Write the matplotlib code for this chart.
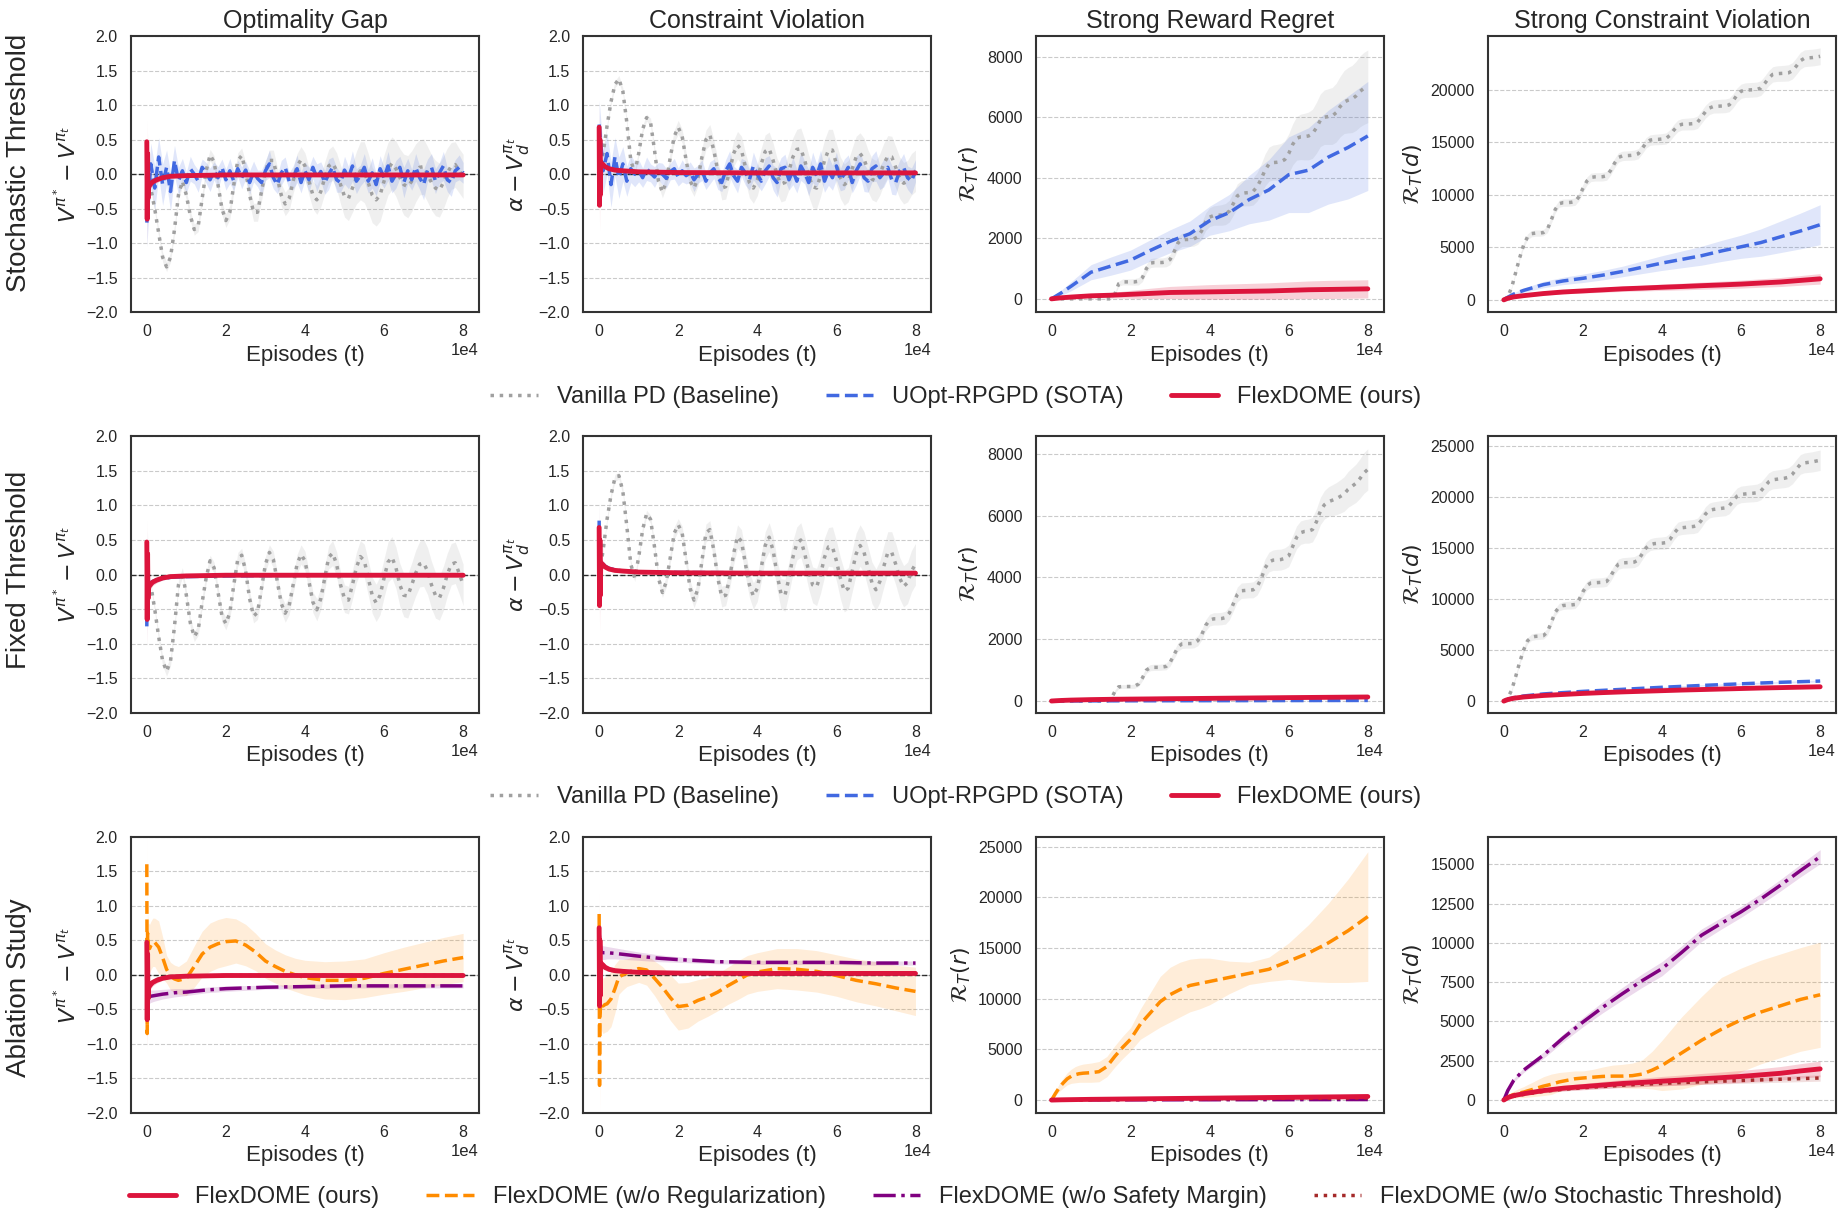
import numpy as np
import matplotlib
matplotlib.use("Agg")
import matplotlib.pyplot as plt
from matplotlib.lines import Line2D
import seaborn as sns

# ------------------------------------------------------------------ data
# sampling grids (episodes)
t_grid = np.arange(0, 80001, 1000)                 # 81 points
t_red = [0, 100, 200, 300, 400, 600, 1000, 1500, 2500, 4000, 6000,
         10000, 20000, 40000, 60000, 80000]
t_cum = [0, 1000, 2500, 5000, 10000, 15000, 20000, 25000, 30000, 35000,
         40000, 45000, 50000, 55000, 60000, 65000, 70000, 75000, 80000]
t_pm = [0, 500, 1000, 2000, 4000, 7000, 10000, 15000, 20000, 30000,
        40000, 50000, 60000, 70000, 80000]
t_abl = [0, 100, 200, 400, 700, 1000, 1500, 2000, 3000, 4000, 5000, 6000,
         7000, 8000, 10000, 12000, 14000, 16000, 18000, 20000, 22500, 25000,
         27500, 30000, 32500, 35000, 37500, 40000, 45000, 50000, 55000,
         60000, 65000, 70000, 75000, 80000]

# ---- Row 1: stochastic threshold, optimality gap
st_gap_vpd = [0.0, -0.2, -0.5, -0.85, -1.2, -1.34, -1.2, -0.8, -0.3, -0.1,
              -0.3, -0.6, -0.8, -0.75, -0.35, 0.05, 0.28, 0.18, -0.15, -0.5,
              -0.67, -0.55, -0.15, 0.2, 0.27, 0.05, -0.3, -0.55, -0.55, -0.25,
              0.05, 0.2, 0.2, -0.05, -0.3, -0.43, -0.35, -0.1, 0.12, 0.21,
              0.12, -0.1, -0.3, -0.37, -0.25, -0.05, 0.12, 0.16, 0.05, -0.15,
              -0.32, -0.35, -0.2, -0.05, 0.05, 0.03, -0.12, -0.3, -0.37, -0.3,
              -0.1, 0.08, 0.16, 0.08, -0.05, -0.15, -0.18, -0.1, 0.02, 0.1,
              0.11, 0.0, -0.12, -0.2, -0.23, -0.12, 0.02, 0.12, 0.14, 0.05,
              -0.03]
st_gap_vpd_sd = [0.03, 0.04, 0.05, 0.06, 0.07, 0.07, 0.07, 0.07, 0.07, 0.07,
                 0.07, 0.07, 0.08, 0.08, 0.08, 0.08, 0.08, 0.09, 0.09, 0.09,
                 0.1, 0.1, 0.1, 0.11, 0.11, 0.12, 0.12, 0.13, 0.13, 0.14,
                 0.14, 0.15, 0.15, 0.16, 0.16, 0.17, 0.17, 0.18, 0.18, 0.19,
                 0.19, 0.2, 0.2, 0.21, 0.22, 0.23, 0.24, 0.25, 0.26, 0.28,
                 0.3, 0.32, 0.35, 0.38, 0.42, 0.44, 0.42, 0.4, 0.38, 0.38,
                 0.38, 0.38, 0.38, 0.4, 0.42, 0.44, 0.45, 0.44, 0.42, 0.4,
                 0.4, 0.4, 0.4, 0.4, 0.39, 0.38, 0.36, 0.34, 0.33, 0.32,
                 0.32]
st_gap_uopt = [-0.7, 0.15, -0.2, 0.25, -0.15, 0.1, -0.25, 0.2, -0.1, 0.05,
               -0.12, 0.08, 0.0, -0.1, 0.1, 0.02, -0.08, 0.05, -0.05, 0.1,
               -0.08, 0.05, -0.1, 0.08, -0.05, 0.06, -0.12, 0.04, -0.06, -0.12,
               0.05, 0.15, -0.05, -0.15, 0.02, 0.1, -0.1, -0.05, 0.08, -0.12,
               0.05, -0.08, 0.1, -0.05, 0.04, -0.12, 0.0, 0.1, -0.08, -0.12,
               0.06, -0.05, 0.12, -0.1, -0.02, 0.1, -0.1, 0.02, -0.15, 0.08,
               -0.05, 0.12, -0.1, 0.0, 0.1, -0.12, 0.05, -0.08, 0.1, -0.05,
               -0.15, 0.06, 0.1, -0.1, 0.02, 0.12, -0.08, -0.12, 0.05, 0.1,
               0.02]
st_gap_uopt_sd = [0.35, 0.3, 0.32, 0.28, 0.3, 0.25, 0.28, 0.22, 0.2, 0.18,
                  0.15, 0.18, 0.14, 0.16, 0.12, 0.15, 0.17, 0.13, 0.16, 0.12,
                  0.15, 0.18, 0.14, 0.12, 0.16, 0.13, 0.17, 0.15, 0.12, 0.18,
                  0.14, 0.2, 0.16, 0.13, 0.18, 0.15, 0.12, 0.17, 0.2, 0.15,
                  0.13, 0.18, 0.16, 0.2, 0.14, 0.17, 0.22, 0.15, 0.18, 0.14,
                  0.2, 0.16, 0.22, 0.18, 0.15, 0.2, 0.17, 0.22, 0.16, 0.19,
                  0.15, 0.21, 0.17, 0.2, 0.16, 0.22, 0.18, 0.15, 0.2, 0.17,
                  0.22, 0.16, 0.2, 0.18, 0.15, 0.21, 0.17, 0.2, 0.16, 0.18,
                  0.15]
flex_gap = [0.47, -0.65, 0.3, -0.35, -0.2, -0.17, -0.14, -0.11, -0.08, -0.05,
            -0.03, -0.02, -0.01, -0.01, -0.01, -0.01]
flex_gap_sd = [0.35, 0.4, 0.3, 0.25, 0.12, 0.08, 0.06, 0.05, 0.04, 0.03,
               0.02, 0.02, 0.02, 0.02, 0.02, 0.02]

# ---- Row 1: stochastic threshold, constraint violation
st_cv_vpd = [0.0, 0.3, 0.7, 1.05, 1.3, 1.38, 1.2, 0.75, 0.2, 0.02,
             0.3, 0.65, 0.82, 0.75, 0.35, -0.1, -0.26, -0.1, 0.25, 0.55,
             0.68, 0.55, 0.2, -0.1, -0.2, -0.05, 0.25, 0.5, 0.57, 0.35,
             0.05, -0.2, -0.18, 0.05, 0.3, 0.42, 0.35, 0.1, -0.12, -0.2,
             -0.08, 0.15, 0.33, 0.37, 0.2, -0.02, -0.14, -0.12, 0.05, 0.25,
             0.36, 0.37, 0.2, -0.02, -0.18, -0.2, -0.02, 0.2, 0.35, 0.35,
             0.15, -0.05, -0.15, -0.1, 0.08, 0.25, 0.3, 0.22, 0.05, -0.07,
             -0.1, 0.0, 0.15, 0.26, 0.25, 0.1, -0.05, -0.13, -0.1, 0.0,
             0.05]
st_cv_vpd_sd = [0.02, 0.03, 0.04, 0.05, 0.05, 0.05, 0.05, 0.05, 0.05, 0.05,
                0.05, 0.05, 0.05, 0.06, 0.06, 0.07, 0.08, 0.08, 0.09, 0.09,
                0.1, 0.1, 0.11, 0.11, 0.12, 0.12, 0.13, 0.14, 0.15, 0.15,
                0.16, 0.17, 0.18, 0.18, 0.19, 0.2, 0.2, 0.21, 0.22, 0.22,
                0.23, 0.23, 0.24, 0.24, 0.25, 0.25, 0.26, 0.26, 0.27, 0.28,
                0.29, 0.3, 0.3, 0.3, 0.3, 0.3, 0.3, 0.3, 0.3, 0.3,
                0.3, 0.3, 0.3, 0.3, 0.3, 0.3, 0.3, 0.3, 0.3, 0.3,
                0.3, 0.3, 0.3, 0.3, 0.3, 0.3, 0.3, 0.3, 0.3, 0.3,
                0.3]
st_cv_uopt = [0.72, 0.05, 0.3, -0.15, 0.25, -0.05, 0.15, -0.1, 0.08, 0.0,
              0.05, -0.05, 0.08, 0.02, -0.04, 0.05, 0.0, -0.06, 0.04, 0.08,
              -0.04, 0.05, -0.02, 0.03, -0.08, 0.0, 0.06, -0.1, 0.02, 0.08,
              -0.05, -0.12, 0.05, 0.15, -0.02, -0.1, 0.1, 0.02, -0.08, 0.12,
              0.0, -0.1, 0.05, 0.12, -0.05, -0.12, 0.08, 0.1, -0.08, 0.05,
              -0.1, 0.12, 0.02, -0.12, 0.1, -0.02, 0.15, -0.1, 0.05, -0.05,
              0.12, -0.08, 0.0, 0.1, -0.12, 0.05, 0.15, -0.05, -0.1, 0.08,
              0.12, -0.05, 0.02, 0.1, -0.08, -0.12, 0.05, 0.1, -0.05, -0.1,
              0.05]
st_cv_uopt_sd = [0.35, 0.32, 0.3, 0.33, 0.28, 0.3, 0.25, 0.22, 0.2, 0.18,
                 0.16, 0.14, 0.17, 0.13, 0.15, 0.12, 0.16, 0.14, 0.12, 0.15,
                 0.13, 0.16, 0.12, 0.15, 0.17, 0.13, 0.15, 0.12, 0.16, 0.14,
                 0.17, 0.13, 0.16, 0.19, 0.14, 0.17, 0.13, 0.18, 0.15, 0.2,
                 0.16, 0.14, 0.19, 0.15, 0.18, 0.21, 0.16, 0.19, 0.15, 0.2,
                 0.17, 0.21, 0.16, 0.19, 0.22, 0.17, 0.2, 0.16, 0.21, 0.18,
                 0.2, 0.16, 0.22, 0.18, 0.15, 0.21, 0.17, 0.2, 0.16, 0.19,
                 0.22, 0.17, 0.2, 0.16, 0.21, 0.18, 0.15, 0.2, 0.17, 0.19,
                 0.16]
flex_cv = [0.68, -0.45, 0.5, -0.3, 0.17, 0.16, 0.14, 0.11, 0.08, 0.06,
           0.05, 0.035, 0.025, 0.02, 0.02, 0.02]
flex_cv_sd = [0.37, 0.38, 0.3, 0.2, 0.1, 0.07, 0.05, 0.04, 0.03, 0.03,
              0.02, 0.02, 0.02, 0.02, 0.02, 0.02]

# ---- Row 1: cumulative regrets
st_rr_vpd = [0, 0, 0, 0, 0, 0, 0, 0, 0, 0,
             0, 0, 0, 0, 0, 0, 150, 500, 560, 560,
             560, 560, 580, 700, 1000, 1180, 1200, 1200, 1200, 1220,
             1300, 1550, 1850, 1950, 1960, 1960, 1980, 2050, 2250, 2550,
             2700, 2750, 2760, 2770, 2800, 2900, 3150, 3400, 3480, 3500,
             3510, 3550, 3700, 3950, 4250, 4450, 4500, 4510, 4530, 4600,
             4800, 5100, 5300, 5350, 5360, 5380, 5450, 5650, 5900, 6000,
             6020, 6040, 6150, 6350, 6500, 6560, 6600, 6700, 6850, 6950,
             7020]
st_rr_vpd_sd = [0, 0, 0, 0, 0, 0, 0, 0, 0, 0,
                0, 0, 0, 0, 0, 0, 40, 80, 100, 100,
                100, 110, 120, 130, 140, 150, 150, 150, 150, 160,
                170, 190, 210, 220, 230, 230, 240, 250, 270, 290,
                310, 320, 330, 340, 350, 360, 380, 400, 420, 430,
                440, 450, 470, 500, 530, 560, 580, 590, 600, 620,
                650, 680, 720, 750, 770, 790, 810, 840, 870, 900,
                920, 940, 970, 1000, 1040, 1080, 1110, 1140, 1170, 1190,
                1200]
st_rr_uopt = [0, 80, 200, 420, 880, 1080, 1280, 1600, 1900, 2150, 2580, 2850,
              3280, 3600, 4100, 4250, 4680, 5000, 5380]
st_rr_uopt_sd = [0, 40, 90, 150, 250, 300, 330, 350, 380, 420, 480, 600, 800,
                 1000, 1250, 1400, 1550, 1700, 1800]
st_rr_flex = [0, 15, 35, 60, 100, 120, 150, 180, 210, 220, 230, 240, 250, 260,
              280, 300, 310, 320, 330]
st_rr_flex_sd = [0, 8, 18, 30, 60, 90, 130, 170, 200, 220, 240, 250, 260, 270,
                 280, 290, 300, 300, 300]

st_rc_vpd = [0, 300, 1200, 2600, 4000, 5200, 6000, 6300, 6350, 6350,
             6400, 6700, 7600, 8600, 9150, 9250, 9250, 9280, 9350, 9800,
             10600, 11300, 11650, 11700, 11700, 11720, 11800, 12300, 13000, 13550,
             13700, 13720, 13740, 13780, 13900, 14400, 14950, 15200, 15250, 15270,
             15300, 15350, 15650, 16150, 16550, 16700, 16720, 16740, 16770, 16900,
             17400, 17900, 18250, 18400, 18420, 18440, 18460, 18550, 18950, 19500,
             19850, 19950, 19970, 19990, 20020, 20150, 20600, 21100, 21450, 21520,
             21540, 21560, 21600, 21800, 22250, 22750, 22980, 23020, 23050, 23100,
             23170]
st_rc_vpd_sd = [0, 50, 100, 150, 200, 250, 280, 300, 300, 300,
                300, 310, 320, 330, 340, 350, 350, 350, 360, 370,
                380, 390, 400, 400, 400, 410, 420, 430, 440, 450,
                450, 450, 460, 470, 480, 490, 500, 500, 500, 510,
                520, 530, 540, 550, 550, 550, 560, 570, 580, 590,
                600, 610, 620, 630, 640, 650, 650, 650, 660, 670,
                680, 690, 700, 700, 700, 700, 710, 720, 730, 740,
                750, 760, 770, 780, 790, 800, 800, 800, 800, 800,
                800]
st_rc_uopt = [0, 250, 550, 900, 1450, 1800, 2050, 2350, 2700, 3100, 3500,
              3850, 4200, 4650, 5050, 5450, 6000, 6550, 7150]
st_rc_uopt_sd = [0, 60, 130, 200, 300, 350, 400, 450, 500, 600, 700, 800,
                 900, 1000, 1100, 1300, 1500, 1700, 1900]
st_rc_flex = [0, 150, 280, 400, 600, 750, 850, 950, 1050, 1120, 1200, 1270,
              1350, 1420, 1500, 1600, 1700, 1850, 2000]
st_rc_flex_sd = [0, 30, 60, 100, 150, 180, 200, 230, 250, 270, 300, 320, 340,
                 360, 380, 400, 430, 460, 500]

# ---- Row 2: fixed threshold
fx_gap_vpd = [0.0, -0.15, -0.5, -0.9, -1.25, -1.4, -1.25, -0.75, -0.15, 0.03,
              -0.3, -0.7, -0.9, -0.8, -0.4, -0.05, 0.2, 0.1, -0.25, -0.6,
              -0.71, -0.55, -0.15, 0.22, 0.28, 0.05, -0.35, -0.6, -0.55, -0.2,
              0.15, 0.32, 0.22, -0.1, -0.42, -0.56, -0.45, -0.15, 0.15, 0.29,
              0.2, -0.1, -0.4, -0.51, -0.35, -0.05, 0.25, 0.31, 0.15, -0.15,
              -0.35, -0.37, -0.15, 0.1, 0.26, 0.2, -0.05, -0.3, -0.41, -0.3,
              -0.05, 0.18, 0.25, 0.1, -0.15, -0.3, -0.31, -0.15, 0.02, 0.15,
              0.17, 0.05, -0.15, -0.3, -0.34, -0.2, 0.0, 0.15, 0.17, 0.02,
              -0.15]
fx_gap_vpd_sd = [0.03, 0.04, 0.05, 0.06, 0.07, 0.07, 0.07, 0.07, 0.07, 0.07,
                 0.07, 0.07, 0.07, 0.08, 0.08, 0.08, 0.08, 0.08, 0.08, 0.09,
                 0.09, 0.09, 0.09, 0.1, 0.1, 0.1, 0.1, 0.1, 0.1, 0.11,
                 0.11, 0.11, 0.12, 0.12, 0.12, 0.13, 0.13, 0.13, 0.14, 0.14,
                 0.14, 0.15, 0.15, 0.16, 0.16, 0.17, 0.17, 0.18, 0.18, 0.19,
                 0.2, 0.2, 0.21, 0.22, 0.23, 0.24, 0.25, 0.26, 0.27, 0.28,
                 0.28, 0.29, 0.3, 0.3, 0.31, 0.31, 0.32, 0.32, 0.33, 0.33,
                 0.34, 0.34, 0.34, 0.33, 0.32, 0.32, 0.31, 0.3, 0.3, 0.3,
                 0.3]
fx_gap_uopt = [-0.75, 0.35, -0.4, -0.2, -0.17, -0.14, -0.12, -0.1, -0.08,
               -0.06, -0.04, -0.03, -0.02, -0.01, -0.01, -0.01]
fx_gap_uopt_sd = [0.3, 0.3, 0.25, 0.2, 0.1, 0.06, 0.05, 0.04, 0.03, 0.02,
                  0.02, 0.02, 0.02, 0.02, 0.02, 0.02]

fx_cv_vpd = [0.0, 0.35, 0.8, 1.15, 1.4, 1.43, 1.2, 0.7, 0.15, -0.05,
             0.25, 0.65, 0.88, 0.8, 0.4, -0.05, -0.26, -0.1, 0.25, 0.6,
             0.72, 0.6, 0.2, -0.2, -0.37, -0.2, 0.2, 0.6, 0.65, 0.35,
             -0.05, -0.32, -0.3, -0.05, 0.3, 0.55, 0.48, 0.15, -0.15, -0.31,
             -0.2, 0.1, 0.42, 0.54, 0.35, 0.0, -0.28, -0.3, -0.05, 0.25,
             0.45, 0.5, 0.3, 0.05, -0.15, -0.18, 0.0, 0.25, 0.4, 0.4,
             0.2, -0.05, -0.24, -0.2, 0.05, 0.3, 0.42, 0.32, 0.1, -0.12,
             -0.22, -0.1, 0.12, 0.32, 0.32, 0.15, -0.05, -0.17, -0.12, 0.05,
             0.15]
fx_cv_vpd_sd = [0.02, 0.03, 0.04, 0.05, 0.05, 0.05, 0.05, 0.05, 0.05, 0.05,
                0.05, 0.05, 0.05, 0.06, 0.06, 0.07, 0.07, 0.08, 0.08, 0.09,
                0.09, 0.1, 0.1, 0.11, 0.11, 0.12, 0.12, 0.13, 0.13, 0.14,
                0.14, 0.15, 0.15, 0.16, 0.16, 0.17, 0.17, 0.18, 0.18, 0.19,
                0.19, 0.2, 0.2, 0.21, 0.21, 0.22, 0.22, 0.23, 0.23, 0.24,
                0.24, 0.25, 0.25, 0.26, 0.26, 0.27, 0.27, 0.28, 0.28, 0.29,
                0.29, 0.3, 0.3, 0.3, 0.3, 0.3, 0.3, 0.3, 0.3, 0.3,
                0.3, 0.3, 0.3, 0.3, 0.3, 0.3, 0.3, 0.3, 0.3, 0.3,
                0.3]
fx_cv_uopt = [0.78, -0.3, 0.45, -0.2, 0.2, 0.17, 0.15, 0.12, 0.09, 0.07,
              0.05, 0.04, 0.03, 0.025, 0.02, 0.02]
fx_cv_uopt_sd = [0.32, 0.3, 0.25, 0.2, 0.1, 0.06, 0.05, 0.04, 0.03, 0.02,
                 0.02, 0.02, 0.02, 0.02, 0.02, 0.02]

fx_rr_vpd = [0, 0, 0, 0, 0, 0, 0, 0, 0, 0,
             0, 0, 0, 0, 0, 50, 300, 460, 470, 470,
             470, 480, 550, 750, 1000, 1080, 1090, 1090, 1100, 1120,
             1250, 1500, 1750, 1850, 1860, 1860, 1870, 1950, 2150, 2450,
             2620, 2660, 2660, 2670, 2700, 2850, 3150, 3450, 3570, 3580,
             3590, 3600, 3700, 3950, 4300, 4500, 4560, 4570, 4580, 4620,
             4700, 5000, 5300, 5450, 5490, 5500, 5550, 5800, 6150, 6350,
             6450, 6500, 6550, 6620, 6700, 6850, 6950, 7050, 7200, 7380,
             7500]
fx_rr_vpd_sd = [0, 0, 0, 0, 0, 0, 0, 0, 0, 0,
                0, 0, 0, 0, 0, 20, 50, 60, 60, 60,
                60, 70, 80, 90, 100, 100, 100, 100, 100, 110,
                120, 130, 140, 150, 150, 150, 150, 160, 170, 180,
                190, 200, 200, 200, 210, 220, 230, 240, 250, 250,
                250, 260, 270, 280, 300, 320, 330, 340, 340, 340,
                350, 360, 370, 380, 380, 390, 400, 420, 440, 460,
                480, 500, 520, 540, 560, 580, 600, 620, 640, 660,
                670]
fx_rr_uopt = [0, 1, 2, 3, 5, 6, 7, 8, 9, 10, 11, 12, 13, 14, 15, 16, 17, 18, 19]
fx_rr_uopt_sd = [0, 1, 2, 3, 4, 5, 5, 5, 5, 5, 5, 5, 5, 5, 5, 5, 5, 5, 5]
fx_rr_flex = [0, 8, 18, 30, 45, 55, 62, 68, 75, 80, 86, 92, 98, 104, 110, 115,
              120, 125, 130]
fx_rr_flex_sd = [0, 3, 6, 10, 15, 18, 20, 22, 24, 26, 28, 30, 32, 34, 36, 38,
                 40, 42, 44]

fx_rc_vpd = [0, 300, 1100, 2400, 3800, 5000, 5900, 6250, 6330, 6350,
             6400, 6750, 7700, 8700, 9200, 9350, 9380, 9400, 9450, 9900,
             10700, 11300, 11550, 11580, 11600, 11620, 11700, 12200, 12900, 13400,
             13520, 13540, 13560, 13600, 13800, 14400, 15000, 15300, 15400, 15430,
             15450, 15500, 15800, 16400, 16850, 16950, 17000, 17050, 17080, 17200,
             17700, 18300, 18650, 18750, 18800, 18850, 18900, 19100, 19600, 20050,
             20220, 20260, 20300, 20330, 20380, 20550, 21000, 21450, 21650, 21700,
             21750, 21800, 21900, 22200, 22700, 23150, 23300, 23350, 23400, 23480,
             23560]
fx_rc_vpd_sd = [0, 60, 120, 180, 240, 280, 300, 320, 320, 320,
                330, 340, 350, 360, 370, 380, 380, 390, 400, 410,
                420, 430, 440, 450, 450, 460, 470, 480, 490, 500,
                510, 520, 530, 540, 550, 560, 570, 580, 590, 600,
                610, 620, 630, 640, 650, 660, 670, 680, 690, 700,
                710, 720, 730, 740, 750, 760, 770, 780, 790, 800,
                810, 820, 830, 840, 850, 860, 870, 880, 890, 900,
                910, 920, 930, 940, 950, 960, 970, 980, 990, 1000,
                1000]
fx_rc_uopt = [0, 180, 330, 500, 700, 830, 950, 1050, 1150, 1250, 1350, 1440,
              1530, 1610, 1690, 1770, 1840, 1900, 1960]
fx_rc_uopt_sd = [0, 15, 30, 40, 50, 50, 60, 60, 60, 70, 70, 70, 70, 80, 80,
                 80, 80, 90, 90]
fx_rc_flex = [0, 150, 280, 400, 550, 650, 750, 830, 900, 960, 1020, 1080,
              1130, 1180, 1230, 1280, 1320, 1360, 1400]
fx_rc_flex_sd = [0, 15, 30, 40, 50, 60, 60, 70, 70, 70, 80, 80, 80, 90, 90,
                 90, 100, 100, 100]

# ---- Row 3: ablation
ab_gap_noreg = [1.6, -0.85, 0.6, 0.4, 0.38, 0.42, 0.47, 0.47, 0.4, 0.25,
                0.08, -0.02, -0.06, -0.08, -0.05, 0.12, 0.3, 0.4, 0.45, 0.48,
                0.49, 0.43, 0.33, 0.2, 0.12, 0.05, 0.0, -0.04, -0.08, -0.08,
                -0.05, 0.02, 0.08, 0.14, 0.2, 0.25]
ab_gap_noreg_sd = [0.5, 0.3, 0.3, 0.35, 0.35, 0.35, 0.35, 0.35, 0.38, 0.3,
                   0.2, 0.2, 0.2, 0.2, 0.25, 0.3, 0.33, 0.35, 0.35, 0.35,
                   0.32, 0.3, 0.27, 0.25, 0.24, 0.24, 0.24, 0.25, 0.27, 0.28,
                   0.28, 0.3, 0.32, 0.33, 0.34, 0.35]
ab_gap_nosm = [-0.3, -0.32, -0.31, -0.3, -0.28, -0.26, -0.25, -0.22, -0.2,
               -0.18, -0.17, -0.16, -0.16, -0.16, -0.16]
ab_gap_nosm_sd = [0.1, 0.1, 0.09, 0.08, 0.07, 0.06, 0.05, 0.04, 0.04, 0.03,
                  0.03, 0.03, 0.03, 0.03, 0.03]
ab_gap_nost = [0.45, -0.6, 0.28, -0.3, -0.18, -0.16, -0.13, -0.1, -0.07,
               -0.05, -0.03, -0.02, -0.01, -0.01, -0.01, -0.01]
ab_gap_nost_sd = [0.3, 0.35, 0.25, 0.2, 0.1, 0.06, 0.05, 0.04, 0.03, 0.02,
                  0.02, 0.02, 0.02, 0.02, 0.02, 0.02]

ab_cv_noreg = [0.88, -1.6, -0.6, -0.4, -0.42, -0.45, -0.43, -0.42, -0.35, -0.2,
               -0.03, 0.0, 0.03, 0.05, 0.09, 0.07, -0.05, -0.18, -0.33, -0.46,
               -0.44, -0.37, -0.32, -0.25, -0.16, -0.08, 0.0, 0.04, 0.09, 0.08,
               0.05, -0.01, -0.08, -0.13, -0.19, -0.24]
ab_cv_noreg_sd = [0.4, 0.4, 0.3, 0.35, 0.4, 0.4, 0.4, 0.4, 0.4, 0.35,
                  0.25, 0.22, 0.2, 0.2, 0.2, 0.22, 0.25, 0.3, 0.33, 0.34,
                  0.33, 0.3, 0.28, 0.27, 0.27, 0.28, 0.28, 0.28, 0.29, 0.3,
                  0.3, 0.3, 0.31, 0.32, 0.33, 0.35]
ab_cv_nosm = [0.6, 0.33, 0.32, 0.32, 0.31, 0.29, 0.27, 0.24, 0.22, 0.19,
              0.18, 0.18, 0.18, 0.17, 0.17]
ab_cv_nosm_sd = [0.3, 0.1, 0.1, 0.09, 0.08, 0.07, 0.06, 0.05, 0.04, 0.03,
                 0.03, 0.03, 0.03, 0.03, 0.03]
ab_cv_nost = [0.65, -0.4, 0.45, -0.25, 0.16, 0.15, 0.13, 0.1, 0.08, 0.06,
              0.05, 0.035, 0.025, 0.02, 0.02, 0.02]
ab_cv_nost_sd = [0.3, 0.3, 0.25, 0.2, 0.1, 0.06, 0.05, 0.04, 0.03, 0.02,
                 0.02, 0.02, 0.02, 0.02, 0.02, 0.02]

ab_rr_noreg = [0, 60, 120, 250, 450, 650, 950, 1250, 1700, 2100,
               2350, 2500, 2600, 2650, 2700, 2800, 3300, 4300, 5200, 6000,
               7500, 8600, 9700, 10400, 10900, 11300, 11500, 11700, 12100, 12500,
               12900, 13700, 14500, 15500, 16700, 18100]
ab_rr_noreg_sd = [0, 30, 50, 100, 150, 200, 300, 400, 500, 600,
                  700, 800, 850, 900, 950, 1000, 1000, 1050, 1100, 1150,
                  1500, 2000, 2500, 2700, 2700, 2600, 2500, 2300, 1600, 1100,
                  1200, 1800, 2800, 3900, 5100, 6400]
ab_rr_flex = [0, 10, 25, 40, 70, 90, 110, 130, 150, 170, 190, 210, 230, 250,
              270, 290, 310, 330, 350]
ab_rr_flex_sd = [0, 5, 12, 20, 40, 60, 80, 100, 120, 140, 160, 170, 180, 190,
                 200, 210, 220, 230, 240]
ab_rr_nosm = [0, 3, 6, 10, 15, 20, 20, 25, 25, 30, 30, 35, 35, 40, 40, 45, 45,
              50, 50]
ab_rr_nosm_sd = [0, 3, 6, 10, 10, 15, 15, 15, 20, 20, 20, 20, 20, 20, 20, 25,
                 25, 25, 25]
ab_rr_nost = [0, 8, 18, 30, 50, 65, 80, 95, 110, 120, 130, 140, 150, 160, 170,
              180, 190, 200, 210]
ab_rr_nost_sd = [0, 5, 12, 20, 30, 30, 35, 35, 40, 40, 40, 45, 45, 45, 50, 50,
                 50, 50, 50]

ab_rc_noreg = [0, 20, 40, 80, 130, 180, 250, 300, 380, 450,
               500, 580, 650, 730, 880, 1000, 1150, 1250, 1350, 1400,
               1450, 1500, 1520, 1520, 1550, 1650, 1900, 2200, 3000, 3800,
               4500, 5100, 5600, 6000, 6400, 6700]
ab_rc_noreg_sd = [0, 10, 20, 40, 70, 100, 150, 200, 250, 300,
                  350, 400, 450, 500, 600, 650, 600, 550, 500, 450,
                  500, 600, 700, 750, 800, 900, 1200, 1600, 2300, 2800,
                  3300, 3300, 3300, 3300, 3300, 3350]
ab_rc_flex = [0, 150, 280, 400, 600, 750, 850, 950, 1050, 1120, 1200, 1270,
              1350, 1420, 1500, 1600, 1700, 1850, 1980]
ab_rc_flex_sd = [0, 30, 60, 100, 150, 180, 200, 230, 250, 270, 300, 320, 340,
                 360, 380, 400, 430, 460, 500]
ab_rc_nosm = [0, 600, 1250, 1900, 2850, 3950, 4960, 5900, 6770, 7600, 8360,
              9400, 10490, 11250, 11980, 12800, 13680, 14600, 15490]
ab_rc_nosm_sd = [0, 60, 110, 150, 200, 250, 300, 350, 400, 430, 450, 420,
                 400, 370, 350, 350, 370, 400, 450]
ab_rc_nost = [0, 130, 240, 350, 550, 680, 780, 860, 940, 1000, 1060, 1110,
              1160, 1200, 1240, 1280, 1320, 1360, 1400]
ab_rc_nost_sd = [0, 20, 35, 50, 80, 100, 110, 120, 130, 140, 150, 160, 170,
                 175, 180, 185, 190, 195, 200]

col_titles = ["Optimality Gap", "Constraint Violation",
              "Strong Reward Regret", "Strong Constraint Violation"]
row_titles = ["Stochastic Threshold", "Fixed Threshold", "Ablation Study"]
y_labels = [r"$V^{\pi^*} - V^{\pi_t}$", r"$\alpha - V_d^{\pi_t}$",
            r"$\mathcal{R}_T(r)$", r"$\mathcal{R}_T(d)$"]
main_labels = ["Vanilla PD (Baseline)", "UOpt-RPGPD (SOTA)", "FlexDOME (ours)"]
abl_labels = ["FlexDOME (ours)", "FlexDOME (w/o Regularization)",
              "FlexDOME (w/o Safety Margin)", "FlexDOME (w/o Stochastic Threshold)"]

# ------------------------------------------------------------------ style
sns.set_style("white")
plt.rcParams["font.family"] = ["Liberation Sans", "DejaVu Sans"]
plt.rcParams["axes.edgecolor"] = "#333333"
plt.rcParams["axes.linewidth"] = 1.5
plt.rcParams["text.color"] = "#262626"
plt.rcParams["axes.labelcolor"] = "#262626"
plt.rcParams["xtick.color"] = "#262626"
plt.rcParams["ytick.color"] = "#262626"

S_VPD = dict(color="#a0a0a0", ls=":", lw=2.5)
S_UOPT = dict(color="royalblue", ls="--", lw=2.5)
S_FLEX = dict(color="crimson", ls="-", lw=3.5)
S_NOREG = dict(color="darkorange", ls="--", lw=2.5)
S_NOSM = dict(color="purple", ls="-.", lw=2.5)
S_NOST = dict(color="brown", ls=":", lw=2.5)
BAND_A = {"#a0a0a0": 0.16, "royalblue": 0.16, "crimson": 0.2,
          "darkorange": 0.15, "purple": 0.15, "brown": 0.15}


def series(ax, t, m, sd, style, z):
    t = np.asarray(t, float)
    m = np.asarray(m, float)
    sd = np.asarray(sd, float)
    ax.fill_between(t, m - sd, m + sd, color=style["color"],
                    alpha=BAND_A[style["color"]], lw=0, zorder=1)
    ax.plot(t, m, zorder=z, **style)


fig, axes = plt.subplots(3, 4, figsize=(18.45, 12.3), dpi=100)
fig.subplots_adjust(left=0.071, right=0.9951, top=0.9707, bottom=0.0951,
                    wspace=0.30, hspace=0.448)

# row 1
ax = axes[0, 0]
series(ax, t_grid, st_gap_vpd, st_gap_vpd_sd, S_VPD, 3)
series(ax, t_grid, st_gap_uopt, st_gap_uopt_sd, S_UOPT, 4)
series(ax, t_red, flex_gap, flex_gap_sd, S_FLEX, 5)
ax = axes[0, 1]
series(ax, t_grid, st_cv_vpd, st_cv_vpd_sd, S_VPD, 3)
series(ax, t_grid, st_cv_uopt, st_cv_uopt_sd, S_UOPT, 4)
series(ax, t_red, flex_cv, flex_cv_sd, S_FLEX, 5)
ax = axes[0, 2]
series(ax, t_grid, st_rr_vpd, st_rr_vpd_sd, S_VPD, 3)
series(ax, t_cum, st_rr_uopt, st_rr_uopt_sd, S_UOPT, 4)
series(ax, t_cum, st_rr_flex, st_rr_flex_sd, S_FLEX, 5)
ax = axes[0, 3]
series(ax, t_grid, st_rc_vpd, st_rc_vpd_sd, S_VPD, 3)
series(ax, t_cum, st_rc_uopt, st_rc_uopt_sd, S_UOPT, 4)
series(ax, t_cum, st_rc_flex, st_rc_flex_sd, S_FLEX, 5)

# row 2
ax = axes[1, 0]
series(ax, t_grid, fx_gap_vpd, fx_gap_vpd_sd, S_VPD, 3)
series(ax, t_red, fx_gap_uopt, fx_gap_uopt_sd, S_UOPT, 4)
series(ax, t_red, flex_gap, flex_gap_sd, S_FLEX, 5)
ax = axes[1, 1]
series(ax, t_grid, fx_cv_vpd, fx_cv_vpd_sd, S_VPD, 3)
series(ax, t_red, fx_cv_uopt, fx_cv_uopt_sd, S_UOPT, 4)
series(ax, t_red, flex_cv, flex_cv_sd, S_FLEX, 5)
ax = axes[1, 2]
series(ax, t_grid, fx_rr_vpd, fx_rr_vpd_sd, S_VPD, 3)
series(ax, t_cum, fx_rr_uopt, fx_rr_uopt_sd, S_UOPT, 4)
series(ax, t_cum, fx_rr_flex, fx_rr_flex_sd, S_FLEX, 5)
ax = axes[1, 3]
series(ax, t_grid, fx_rc_vpd, fx_rc_vpd_sd, S_VPD, 3)
series(ax, t_cum, fx_rc_uopt, fx_rc_uopt_sd, S_UOPT, 4)
series(ax, t_cum, fx_rc_flex, fx_rc_flex_sd, S_FLEX, 5)

# row 3
ax = axes[2, 0]
series(ax, t_abl, ab_gap_noreg, ab_gap_noreg_sd, S_NOREG, 3)
series(ax, t_pm, ab_gap_nosm, ab_gap_nosm_sd, S_NOSM, 4)
series(ax, t_red, ab_gap_nost, ab_gap_nost_sd, S_NOST, 5)
series(ax, t_red, flex_gap, flex_gap_sd, S_FLEX, 6)
ax = axes[2, 1]
series(ax, t_abl, ab_cv_noreg, ab_cv_noreg_sd, S_NOREG, 3)
series(ax, t_pm, ab_cv_nosm, ab_cv_nosm_sd, S_NOSM, 4)
series(ax, t_red, ab_cv_nost, ab_cv_nost_sd, S_NOST, 5)
series(ax, t_red, flex_cv, flex_cv_sd, S_FLEX, 6)
ax = axes[2, 2]
series(ax, t_abl, ab_rr_noreg, ab_rr_noreg_sd, S_NOREG, 3)
series(ax, t_cum, ab_rr_nosm, ab_rr_nosm_sd, S_NOSM, 4)
series(ax, t_cum, ab_rr_nost, ab_rr_nost_sd, S_NOST, 5)
series(ax, t_cum, ab_rr_flex, ab_rr_flex_sd, S_FLEX, 6)
ax = axes[2, 3]
series(ax, t_abl, ab_rc_noreg, ab_rc_noreg_sd, S_NOREG, 3)
series(ax, t_cum, ab_rc_nosm, ab_rc_nosm_sd, S_NOSM, 4)
series(ax, t_cum, ab_rc_nost, ab_rc_nost_sd, S_NOST, 5)
series(ax, t_cum, ab_rc_flex, ab_rc_flex_sd, S_FLEX, 6)

ylims = {(0, 2): (-450, 8680), (0, 3): (-1200, 25100),
         (1, 2): (-380, 8570), (1, 3): (-1140, 25900),
         (2, 2): (-1280, 25990), (2, 3): (-830, 16770)}
yticks = {(0, 2): np.arange(0, 8001, 2000), (0, 3): np.arange(0, 20001, 5000),
          (1, 2): np.arange(0, 8001, 2000), (1, 3): np.arange(0, 25001, 5000),
          (2, 2): np.arange(0, 25001, 5000), (2, 3): np.arange(0, 15001, 2500)}

for r in range(3):
    for c in range(4):
        ax = axes[r, c]
        ax.set_xlim(-4000, 84000)
        ax.set_xticks([0, 20000, 40000, 60000, 80000])
        ax.ticklabel_format(axis="x", style="sci", scilimits=(0, 0))
        if c < 2:
            ax.set_ylim(-2, 2)
            ax.set_yticks(np.arange(-2, 2.01, 0.5))
            ax.axhline(0, color="black", ls="--", lw=1.0, alpha=0.8, zorder=2)
        else:
            ax.set_ylim(*ylims[(r, c)])
            ax.set_yticks(yticks[(r, c)])
        ax.yaxis.grid(True, ls="--", color="#bdbdbd", lw=0.8, alpha=0.8)
        ax.xaxis.grid(False)
        ax.set_axisbelow(True)
        ax.tick_params(axis="both", labelsize=11.5)
        ax.tick_params(axis="y", pad=6)
        ax.tick_params(axis="x", pad=5)
        ax.xaxis.get_offset_text().set_fontsize(12)
        ax.set_xlabel("Episodes (t)", fontsize=16)
        ax.set_ylabel(y_labels[c], fontsize=16)
        if r == 0:
            ax.set_title(col_titles[c], fontsize=18)

row_y = [0.8675, 0.537, 0.197]
for r in range(3):
    fig.text(0.0103, row_y[r], row_titles[r], rotation=90, va="center",
             ha="center", fontsize=20, color="#262626")

main_handles = [Line2D([], [], **S_VPD), Line2D([], [], **S_UOPT),
                Line2D([], [], **S_FLEX)]
for yy in (0.6772, 0.352):
    fig.legend(main_handles, main_labels, loc="center",
               bbox_to_anchor=(0.518, yy), ncol=3, frameon=False,
               fontsize=17)
abl_handles = [Line2D([], [], **S_FLEX), Line2D([], [], **S_NOREG),
               Line2D([], [], **S_NOSM), Line2D([], [], **S_NOST)]
fig.legend(abl_handles, abl_labels, loc="center", bbox_to_anchor=(0.518, 0.0268),
           ncol=4, frameon=False, fontsize=17)

fig.savefig("out.png", dpi=100)
